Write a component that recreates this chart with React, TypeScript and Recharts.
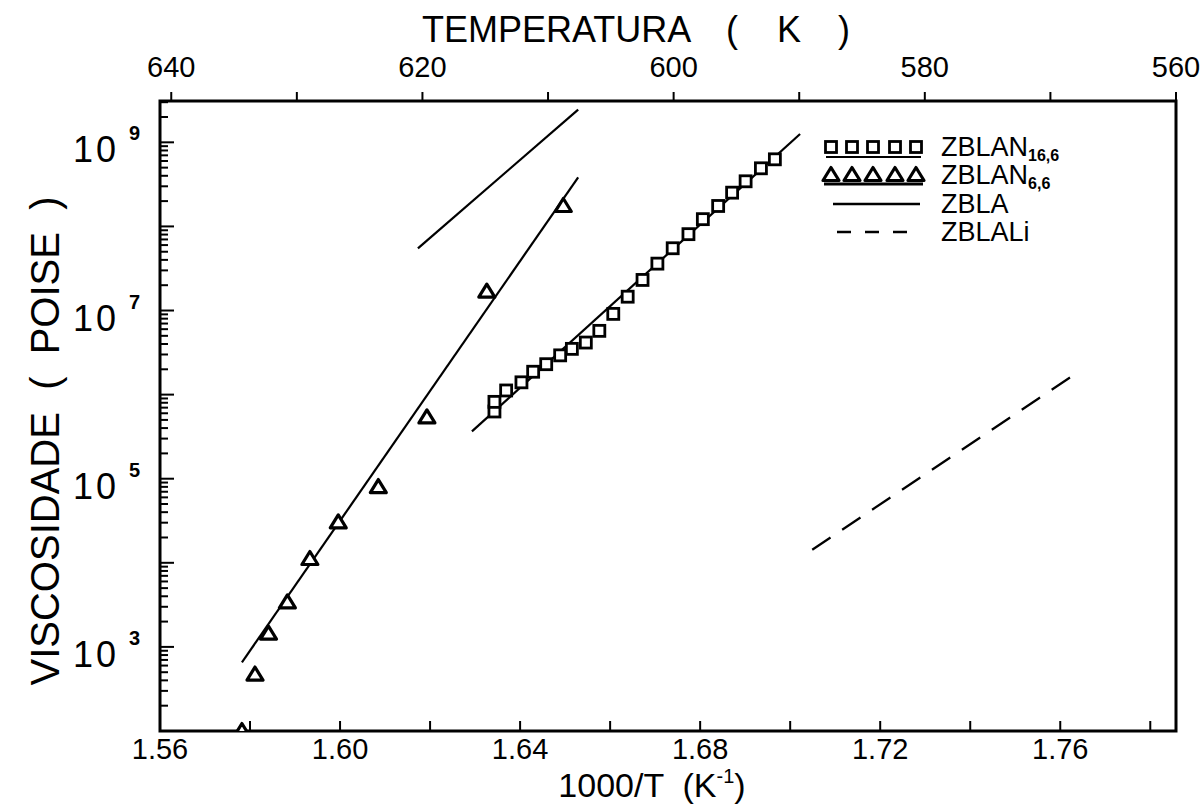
import React from 'react';
import { ScatterChart, Scatter, XAxis, YAxis, ReferenceArea, Legend } from 'recharts';

const FONT = "'Liberation Sans', Arial, Helvetica, sans-serif";
const INK = '#000';

// ZBLAN 16,6 (squares): 1000/T in K^-1 and viscosity in poise
const zblan166InvT = [1.6343, 1.6343, 1.6369, 1.6403, 1.6429, 1.6458, 1.6489, 1.6515, 1.6546, 1.6576, 1.6607,
  1.6639, 1.6672, 1.6705, 1.6739, 1.6774, 1.6806, 1.684, 1.6871, 1.6901, 1.6935, 1.6966];
const zblan166Visc = [6.3e5, 8.2e5, 1.12e6, 1.4e6, 1.87e6, 2.3e6, 2.93e6, 3.5e6, 4.16e6, 5.73e6, 9.12e6,
  1.46e7, 2.31e7, 3.61e7, 5.5e7, 8.09e7, 1.22e8, 1.75e8, 2.52e8, 3.44e8, 4.91e8, 6.28e8];

// ZBLAN 6,6 (triangles)
const zblan66InvT = [1.5782, 1.5811, 1.5841, 1.5883, 1.5933, 1.5996, 1.6085, 1.6193, 1.6326, 1.6496];
const zblan66Visc = [100, 469, 1440, 3390, 1.11e4, 3.03e4, 7.96e4, 5.35e5, 1.68e7, 1.75e8];

// Straight-line fits (end points)
const zblan166FitInvT = [1.6293, 1.7022];
const zblan166FitVisc = [3.65e5, 1.255e9];
const zblan66FitInvT = [1.5782, 1.6529];
const zblan66FitVisc = [656, 3.84e8];
const zblaInvT = [1.6173, 1.6529];
const zblaVisc = [5.49e7, 2.45e9];
const zblaliInvT = [1.7049, 1.7624];
const zblaliVisc = [1.43e4, 1.63e6];

// Axes
const xTickValues = [1.56, 1.58, 1.6, 1.62, 1.64, 1.66, 1.68, 1.7, 1.72, 1.74, 1.76, 1.78];
const xTickLabels = ['1.56', '1.60', '1.64', '1.68', '1.72', '1.76'];
const tempTickValues = [640, 630, 620, 610, 600, 590, 580, 570, 560];
const tempTickLabels = ['640', '620', '600', '580', '560'];
const decadeExponents = [2, 3, 4, 5, 6, 7, 8, 9];
const labelledExponents = [3, 5, 7, 9];
const mantissas = [1, 2, 3, 4, 5, 6, 7, 8, 9];

const X_MIN = 1.56;
const X_MAX = 1000 / 560;
const Y_MIN = 1e2;
const Y_MAX = 3.1e9;
// temperature scale on top is linear, 640 K at 1000/640 and 560 K at the right edge
const T_LEFT = 640 + ((1000 / 640 - X_MIN) / (X_MAX - 1000 / 640)) * 80;
const T_RIGHT = 560;

const CHART_W = 1202;
const CHART_H = 804;
const PLOT_TOP = 101;
const PLOT_BOTTOM = 731;
const PLOT_LEFT = 160;
const PLOT_RIGHT = 1176;
const AXIS_SIZE = 1;
const MARGIN = {
  top: PLOT_TOP - AXIS_SIZE,
  right: CHART_W - PLOT_RIGHT,
  bottom: CHART_H - PLOT_BOTTOM - AXIS_SIZE,
  left: PLOT_LEFT - AXIS_SIZE,
};

const pairs = (xs: number[], ys: number[]) => xs.map((x, i) => ({ x, v: ys[i] }));

const squares = pairs(zblan166InvT, zblan166Visc);
const triangles = pairs(zblan66InvT, zblan66Visc);
const fit166 = pairs(zblan166FitInvT, zblan166FitVisc);
const fit66 = pairs(zblan66FitInvT, zblan66FitVisc);
const zbla = pairs(zblaInvT, zblaVisc);
const zblali = pairs(zblaliInvT, zblaliVisc);
// anchors the temperature axis to its range
const tempRange = [T_RIGHT, T_LEFT].map((t) => ({ t, v: Y_MIN }));

const yTickValues: number[] = [];
decadeExponents.forEach((e) => {
  mantissas.forEach((m) => {
    const v = m * Math.pow(10, e);
    if (v <= Y_MAX) yTickValues.push(v);
  });
});

const SquareMark = (p: any) => (
  <rect x={p.cx - 5.5} y={p.cy - 5.5} width={11} height={11} fill="#fff" stroke={INK} strokeWidth={2.8} />
);

const TriangleMark = (p: any) => (
  <polygon
    points={`${p.cx},${p.cy - 7.5} ${p.cx + 8},${p.cy + 5.5} ${p.cx - 8},${p.cy + 5.5}`}
    fill="#fff"
    stroke={INK}
    strokeWidth={3.2}
    strokeLinejoin="round"
  />
);

const NoMark = () => <g />;

const BottomTick = (p: any) => {
  const v: number = p.payload.value;
  const label = xTickLabels.find((t) => Math.abs(Number(t) - v) < 1e-6);
  return (
    <g>
      <line x1={p.x} x2={p.x} y1={PLOT_BOTTOM} y2={PLOT_BOTTOM - 10} stroke={INK} strokeWidth={2} />
      {label && (
        <text x={p.x} y={PLOT_BOTTOM + 28} textAnchor="middle" fontSize={29} fontFamily={FONT} fill={INK}>
          {label}
        </text>
      )}
    </g>
  );
};

const TopTick = (p: any) => {
  const v: number = p.payload.value;
  const label = tempTickLabels.find((t) => Number(t) === v);
  return (
    <g>
      <line x1={p.x} x2={p.x} y1={PLOT_TOP} y2={PLOT_TOP - 9} stroke={INK} strokeWidth={2} />
      {label && (
        <text x={p.x} y={PLOT_TOP - 24} textAnchor="middle" fontSize={29} fontFamily={FONT} fill={INK}>
          {label}
        </text>
      )}
    </g>
  );
};

const LeftTick = (p: any) => {
  const v: number = p.payload.value;
  const e = Math.round(Math.log10(v));
  const isDecade = Math.abs(v - Math.pow(10, e)) / v < 1e-6;
  const len = isDecade ? 14 : 8;
  return (
    <g>
      <line x1={PLOT_LEFT} x2={PLOT_LEFT + len} y1={p.y} y2={p.y} stroke={INK} strokeWidth={2} />
      {isDecade && labelledExponents.includes(e) && (
        <g>
          <text x={119} y={p.y + 20} textAnchor="end" fontSize={36} fontFamily={FONT} fill={INK} letterSpacing={3}>
            10
          </text>
          <text x={129} y={p.y - 2} fontSize={20} fontWeight="bold" fontFamily={FONT} fill={INK}>
            {e}
          </text>
        </g>
      )}
    </g>
  );
};

const TopTitle = () => (
  <text y={42} fontSize={36} fontFamily={FONT} fill={INK}>
    <tspan x={422}>TEMPERATURA</tspan>
    <tspan x={726}>(</tspan>
    <tspan x={777}>K</tspan>
    <tspan x={838}>)</tspan>
  </text>
);

const BottomTitle = () => (
  <text x={652} y={797} textAnchor="middle" fontSize={34} fontFamily={FONT} fill={INK} style={{ whiteSpace: 'pre' }}>
    {'1000/T  (K'}
    <tspan fontSize={20} dy={-14}>-1</tspan>
    <tspan dy={14}>)</tspan>
  </text>
);

const LeftTitle = () => (
  <text
    x={59}
    y={441}
    textAnchor="middle"
    fontSize={40}
    fontFamily={FONT}
    fill={INK}
    transform="rotate(-90 59 441)"
    style={{ whiteSpace: 'pre' }}
  >
    {'VISCOSIDADE  (  POISE  )'}
  </text>
);

const legendRows = [
  { name: 'ZBLAN', sub: '16,6', y: 27 },
  { name: 'ZBLAN', sub: '6,6', y: 55 },
  { name: 'ZBLA', sub: '', y: 84 },
  { name: 'ZBLALi', sub: '', y: 112 },
];
const legendSymbolX = [16, 37, 58, 80, 101];

const LegendBox = () => (
  <svg width={320} height={140} style={{ overflow: 'visible' }}>
    {legendSymbolX.map((x) => (
      <SquareMark key={'s' + x} cx={x} cy={legendRows[0].y} />
    ))}
    <line x1={11} x2={106} y1={legendRows[0].y + 10} y2={legendRows[0].y + 10} stroke={INK} strokeWidth={2} />
    {legendSymbolX.map((x) => (
      <TriangleMark key={'t' + x} cx={x} cy={legendRows[1].y} />
    ))}
    <line x1={9} x2={108} y1={legendRows[1].y + 9} y2={legendRows[1].y + 9} stroke={INK} strokeWidth={3} />
    <line x1={18} x2={105} y1={legendRows[2].y} y2={legendRows[2].y} stroke={INK} strokeWidth={2.5} />
    <line x1={22} x2={105} y1={legendRows[3].y} y2={legendRows[3].y} stroke={INK} strokeWidth={2.5} strokeDasharray="14 14" />
    {legendRows.map((r, i) => (
      <text key={i} x={126} y={r.y + 9} fontSize={27} fontFamily={FONT} fill={INK}>
        {r.name}
        {r.sub && (
          <tspan fontSize={16} fontWeight="bold" dy={5}>
            {r.sub}
          </tspan>
        )}
      </text>
    ))}
  </svg>
);

export default function App() {
  return (
    <div style={{ position: 'absolute', left: 0, top: 0, width: CHART_W, height: CHART_H, background: '#fff' }}>
      <ScatterChart width={CHART_W} height={CHART_H} margin={MARGIN}>
        <XAxis
          xAxisId="inv"
          dataKey="x"
          type="number"
          domain={[X_MIN, X_MAX]}
          allowDataOverflow
          ticks={xTickValues}
          interval={0}
          height={AXIS_SIZE}
          axisLine={false}
          tickLine={false}
          tick={(p: any) => <BottomTick {...p} />}
          label={{ content: () => <BottomTitle /> }}
        />
        <XAxis
          xAxisId="temp"
          dataKey="t"
          orientation="top"
          type="number"
          domain={[T_RIGHT, T_LEFT]}
          reversed
          allowDataOverflow
          ticks={tempTickValues}
          interval={0}
          height={AXIS_SIZE}
          axisLine={false}
          tickLine={false}
          tick={(p: any) => <TopTick {...p} />}
          label={{ content: () => <TopTitle /> }}
        />
        <YAxis
          dataKey="v"
          type="number"
          scale="log"
          domain={[Y_MIN, Y_MAX]}
          allowDataOverflow
          ticks={yTickValues}
          interval={0}
          width={AXIS_SIZE}
          axisLine={false}
          tickLine={false}
          tick={(p: any) => <LeftTick {...p} />}
          label={{ content: () => <LeftTitle /> }}
        />
        <ReferenceArea
          xAxisId="inv"
          x1={X_MIN}
          x2={X_MAX}
          y1={Y_MIN}
          y2={Y_MAX}
          fill="none"
          fillOpacity={0}
          stroke={INK}
          strokeWidth={3}
          ifOverflow="visible"
        />
        <Scatter xAxisId="temp" name="temperature range" data={tempRange} shape={NoMark} legendType="none" isAnimationActive={false} />
        <Scatter xAxisId="inv" name="ZBLA" data={zbla} line={{ stroke: INK, strokeWidth: 2.2 }} shape={NoMark} isAnimationActive={false} />
        <Scatter xAxisId="inv" name="ZBLALi" data={zblali} line={{ stroke: INK, strokeWidth: 2.2, strokeDasharray: '22 14' }} shape={NoMark} isAnimationActive={false} />
        <Scatter xAxisId="inv" name="fit 6,6" data={fit66} line={{ stroke: INK, strokeWidth: 2.2 }} shape={NoMark} isAnimationActive={false} />
        <Scatter xAxisId="inv" name="fit 16,6" data={fit166} line={{ stroke: INK, strokeWidth: 2.2 }} shape={NoMark} isAnimationActive={false} />
        <Scatter xAxisId="inv" name="ZBLAN 6,6" data={triangles} shape={TriangleMark} isAnimationActive={false} />
        <Scatter xAxisId="inv" name="ZBLAN 16,6" data={squares} shape={SquareMark} isAnimationActive={false} />
        <Legend
          layout="vertical"
          align="center"
          verticalAlign="middle"
          wrapperStyle={{ position: 'absolute', left: 815, top: 120, width: 320, height: 140 }}
          content={() => <LegendBox />}
        />
      </ScatterChart>
    </div>
  );
}
